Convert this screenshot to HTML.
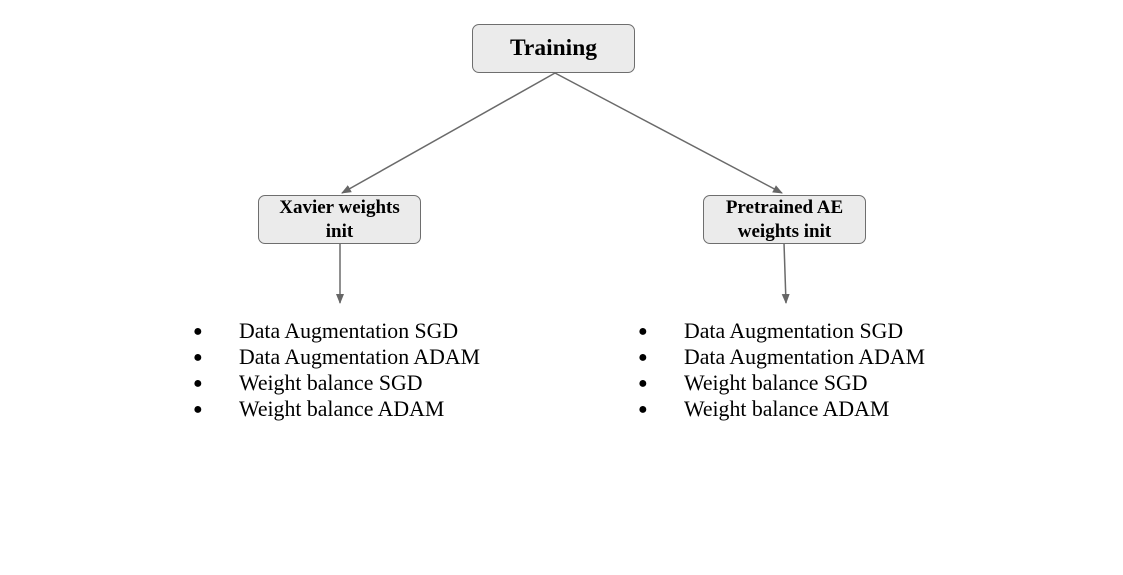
<!DOCTYPE html>
<html><head><style>
body{margin:0;width:1123px;height:575px;background:#fff;position:relative;font-family:"Liberation Serif",serif;overflow:hidden}
.box{position:absolute;background:#ebebeb;border:1.5px solid #6e6e6e;border-radius:7px;box-sizing:border-box;display:flex;align-items:center;justify-content:center;text-align:center;font-weight:bold;color:#000}
.li{position:absolute;font-size:21.8px;line-height:26px;color:#000;white-space:nowrap}
.b{position:absolute;font-size:16px;line-height:26px}
</style></head><body>
<svg width="1123" height="575" style="position:absolute;left:0;top:0">
<defs><marker id="a" markerWidth="10" markerHeight="10" refX="9" refY="5" orient="auto" markerUnits="userSpaceOnUse"><path d="M0,1 L10,5 L0,9 z" fill="#666"/></marker></defs>
<g stroke="#6a6a6a" stroke-width="1.5" fill="none">
<line x1="555" y1="73" x2="342" y2="193" marker-end="url(#a)"/>
<line x1="555" y1="73" x2="782" y2="193" marker-end="url(#a)"/>
<line x1="340" y1="243" x2="340" y2="303" marker-end="url(#a)"/>
<line x1="784" y1="243" x2="786" y2="303" marker-end="url(#a)"/>
</g></svg>
<div class="box" style="left:472px;top:24px;width:163px;height:49px;font-size:23.5px">Training</div>
<div class="box" style="left:258px;top:195px;width:163px;height:49px;font-size:19px;line-height:24px">Xavier weights<br>init</div>
<div class="box" style="left:703px;top:195px;width:163px;height:49px;font-size:19px;line-height:24px">Pretrained AE<br>weights init</div>
<div class="b" style="left:193px;top:319px">●</div><div class="li" style="left:239px;top:318px">Data Augmentation SGD</div>
<div class="b" style="left:193px;top:345px">●</div><div class="li" style="left:239px;top:344px">Data Augmentation ADAM</div>
<div class="b" style="left:193px;top:371px">●</div><div class="li" style="left:239px;top:370px">Weight balance SGD</div>
<div class="b" style="left:193px;top:397px">●</div><div class="li" style="left:239px;top:396px">Weight balance ADAM</div>
<div class="b" style="left:638px;top:319px">●</div><div class="li" style="left:684px;top:318px">Data Augmentation SGD</div>
<div class="b" style="left:638px;top:345px">●</div><div class="li" style="left:684px;top:344px">Data Augmentation ADAM</div>
<div class="b" style="left:638px;top:371px">●</div><div class="li" style="left:684px;top:370px">Weight balance SGD</div>
<div class="b" style="left:638px;top:397px">●</div><div class="li" style="left:684px;top:396px">Weight balance ADAM</div>
</body></html>
